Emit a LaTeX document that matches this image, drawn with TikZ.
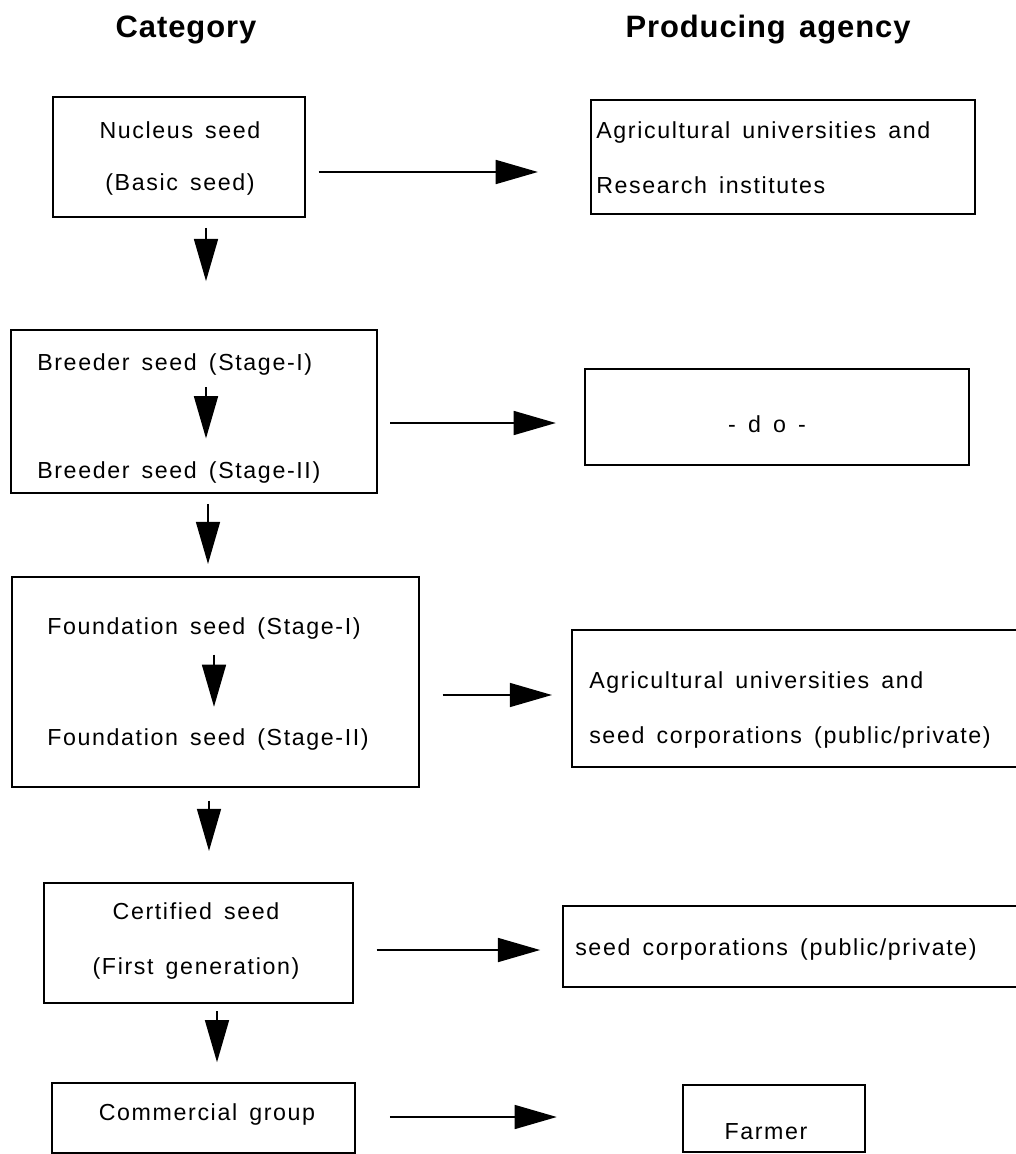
\documentclass[tikz,border=0pt]{standalone}
\usepackage{fontspec}
\setmainfont{Liberation Sans}[LetterSpace=7, WordSpace=1.5]
\newfontfamily\headfont{Liberation Sans}[LetterSpace=3, WordSpace=1.4]
\usepackage{tikz}
\usetikzlibrary{arrows.meta}
\newcommand\pxu{0.025cm}
\tikzset{
  box/.style={draw, line width=1.5pt, inner sep=0pt},
  boxsize/.style 2 args={minimum width=#1*\pxu, minimum height=#2*\pxu},
  lbl/.style={inner sep=0pt, font=\fontsize{16.5}{19}\selectfont},
  head/.style={inner sep=0pt, anchor=base, font=\headfont\bfseries\fontsize{22}{26}\selectfont},
  flow/.style={line width=1.4pt, -{Triangle[length=30pt,width=17pt]}},
}
\begin{document}
\begin{tikzpicture}[x=0.025cm, y=-0.025cm]
  \useasboundingbox (0,0) rectangle (1016,1154);
  % Headings
  \node[head] (cat) at (186,38) {Category};
  \node[head] (agency) at (768,38) {Producing agency};
  % Category boxes
  \node[box, boxsize={252}{120}] (nucleus) at (179,157) {};
  \node[box, boxsize={366}{163}] (breeder) at (194,411.5) {};
  \node[box, boxsize={407}{210}] (found) at (215.5,682) {};
  \node[box, boxsize={309}{120}] (cert) at (198.5,943) {};
  \node[box, boxsize={303}{70}] (comm) at (203.5,1118) {};
  % Agency boxes
  \node[box, boxsize={384}{114}] (agA) at (783,157) {};
  \node[box, boxsize={384}{96}] (agB) at (777,417) {};
  \node[box, boxsize={450}{137}] (agC) at (797,698.5) {};
  \node[box, boxsize={459}{81}] (agD) at (792.5,946.5) {};
  \node[box, boxsize={182}{67}] (farmer) at (774,1118.5) {};
  % Texts
  \node[lbl, anchor=base] (nucA) at (180,139) {Nucleus seed};
  \node[lbl, anchor=base] (nucB) at (180,191) {(Basic seed)};
  \node[lbl, anchor=base west] (brA) at (37,371) {Breeder seed (Stage-I)};
  \node[lbl, anchor=base west] (brB) at (37,478) {Breeder seed (Stage-II)};
  \node[lbl, anchor=base west] (fdA) at (47,634) {Foundation seed (Stage-I)};
  \node[lbl, anchor=base west] (fdB) at (47,745) {Foundation seed (Stage-II)};
  \node[lbl, anchor=base] (ctA) at (196,919) {Certified seed};
  \node[lbl, anchor=base] (ctB) at (196,974) {(First generation)};
  \node[lbl, anchor=base] (cmT) at (207,1120) {Commercial group};
  \node[lbl, anchor=base west] (agA1) at (596,139) {Agricultural universities and};
  \node[lbl, anchor=base west] (agA2) at (596,194) {Research institutes};
  \node[lbl, anchor=base] (agB1) at (767,432) {- d o -};
  \node[lbl, anchor=base west] (agC1) at (589,688) {Agricultural universities and};
  \node[lbl, anchor=base west] (agC2) at (589,743) {seed corporations (public/private)};
  \node[lbl, anchor=base west] (agD1) at (575,955) {seed corporations (public/private)};
  \node[lbl, anchor=base] (fmT) at (766,1139) {Farmer};
  % Downward arrows
  \foreach \a/\b/\x/\s/\e in {nucleus/breeder/206/7pt/34pt, breeder/found/208/7pt/8.5pt,
      found/cert/209/9pt/22pt, cert/comm/217/5pt/14pt, brA/brB/206/8pt/16pt, fdA/fdB/214/11pt/15pt}
    \draw[flow, shorten <=\s, shorten >=\e] (\a.south -| \x,0) -- (\b.north -| \x,0);
  % Arrows to producing agency
  \foreach \a/\b/\y/\s/\e in {nucleus/agA/172/9pt/37pt, breeder/agB/423/8.5pt/20pt,
      found/agC/695/16pt/13.5pt, cert/agD/950/16pt/15.5pt, comm/farmer/1117/24pt/89pt}
    \draw[flow, shorten <=\s, shorten >=\e] (\a.east |- 0,\y) -- (\b.west |- 0,\y);
\end{tikzpicture}
\end{document}
